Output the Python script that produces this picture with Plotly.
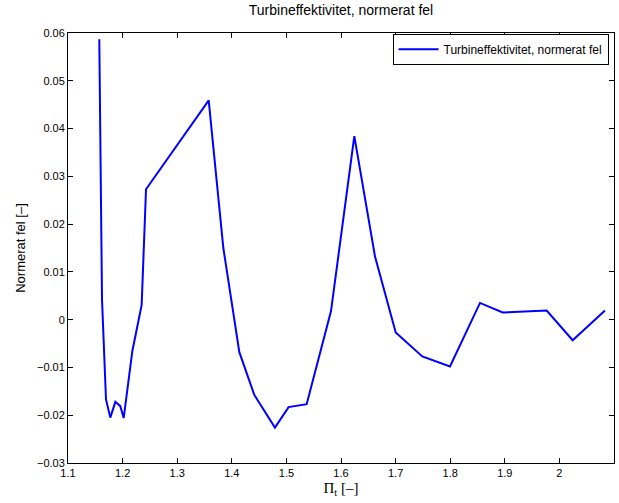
import plotly.graph_objects as go

pi_t = [1.1573, 1.1623, 1.1696, 1.1775, 1.1867, 1.1958, 1.2020, 1.2178, 1.2349, 1.2429,
        1.3577, 1.3845, 1.4138, 1.4410, 1.4790, 1.5040, 1.5371, 1.5817, 1.6244, 1.6623,
        1.7002, 1.7489, 1.7996, 1.8546, 1.8961, 1.9767, 2.0243, 2.0835]
norm_err = [0.0587, 0.0042, -0.0167, -0.0205, -0.0172, -0.0181, -0.0206, -0.0066, 0.0031, 0.0273,
            0.0459, 0.0150, -0.0068, -0.0157, -0.0226, -0.0183, -0.0177, 0.0018, 0.0384, 0.0132,
            -0.0027, -0.0077, -0.0098, 0.0035, 0.0015, 0.0019, -0.0043, 0.0019]

title = "Turbineffektivitet, normerat fel"

fig = go.Figure()
fig.add_trace(go.Scatter(x=pi_t, y=norm_err, mode="lines", name=title,
                         line=dict(color="#0000ff", width=2)))

axis_common = dict(showline=True, linecolor="black", linewidth=1, mirror="ticks",
                   ticks="inside", ticklen=5, tickcolor="black", showgrid=False,
                   zeroline=False, tickfont=dict(family="Liberation Sans, Arial", size=11, color="black"))

fig.update_layout(
    width=619, height=503,
    margin=dict(l=68, r=5, t=33, b=40),
    paper_bgcolor="white", plot_bgcolor="white",
    title=dict(text=title, x=0.5, xref="paper", xanchor="center", y=0.99, yanchor="top",
               font=dict(family="Liberation Sans, Arial", size=14, color="black")),
    xaxis=dict(range=[1.1, 2.1], dtick=0.1, tick0=1.1,
               title=dict(text="Π<sub>t</sub> [–]", standoff=4,
                          font=dict(family="Liberation Serif, Times New Roman", size=15, color="black")),
               **axis_common),
    yaxis=dict(range=[-0.03, 0.06], dtick=0.01,
               title=dict(text="Normerat fel [–]", standoff=8,
                          font=dict(family="Liberation Sans, Arial", size=13, color="black")),
               **axis_common),
    legend=dict(x=0.99, y=0.998, xanchor="right", yanchor="top",
                bgcolor="white", bordercolor="black", borderwidth=1,
                font=dict(family="Liberation Sans, Arial", size=12, color="black"),
                itemwidth=40, tracegroupgap=0),
    showlegend=True,
)

fig.write_html("out.html")
